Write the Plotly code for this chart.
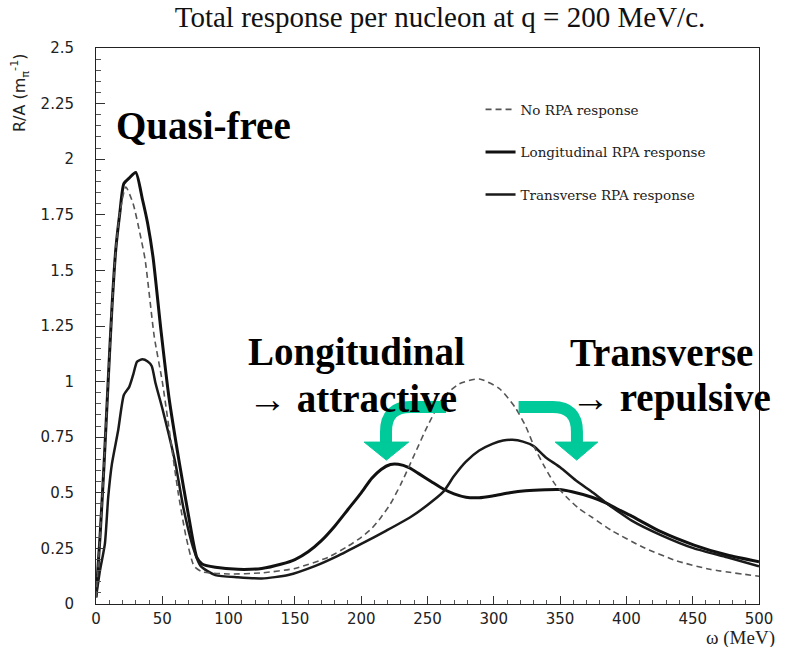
import plotly.graph_objects as go

# ---------------- data ----------------
omega_norpa = [0, 3, 6, 9, 12, 15, 18, 22.5, 28, 33, 37, 44, 50, 56, 62, 68, 74, 80,
               100, 125, 150, 175, 190, 200, 208, 215, 222, 230, 240, 250, 262, 274, 289,
               304, 316, 324, 331, 338, 346, 355, 364, 374, 389, 413, 438, 463, 500]
r_norpa = [0.03, 0.30, 0.62, 0.98, 1.33, 1.60, 1.76, 1.875, 1.80, 1.67, 1.55, 1.20, 1.00,
           0.75, 0.50, 0.30, 0.17, 0.145, 0.135, 0.14, 0.16, 0.21, 0.26, 0.30, 0.34, 0.39,
           0.45, 0.54, 0.67, 0.80, 0.93, 0.99, 1.012, 0.97, 0.885, 0.80, 0.70, 0.62, 0.54,
           0.48, 0.43, 0.39, 0.33, 0.254, 0.194, 0.156, 0.125]

omega_long = [0, 3, 6, 9, 12, 15, 18, 21, 25, 30, 35, 39, 43, 49, 55, 63, 70, 76, 80, 90,
              107, 125, 140, 150, 160, 170, 180, 190, 200, 208, 215, 222, 228, 236, 244,
              253, 262, 270, 279, 289, 299, 312, 324, 339, 349, 359, 374, 384, 394, 404,
              426, 451, 476, 500]
r_long = [0.03, 0.30, 0.62, 0.98, 1.33, 1.60, 1.76, 1.89, 1.915, 1.94, 1.82, 1.71, 1.56,
          1.23, 0.93, 0.63, 0.39, 0.21, 0.18, 0.165, 0.156, 0.16, 0.18, 0.20, 0.235, 0.285,
          0.35, 0.425, 0.50, 0.565, 0.605, 0.627, 0.628, 0.613, 0.584, 0.55, 0.517, 0.495,
          0.48, 0.478, 0.486, 0.50, 0.509, 0.514, 0.515, 0.505, 0.48, 0.456, 0.425, 0.395,
          0.325, 0.265, 0.22, 0.19]

omega_trans = [0, 3, 6.7, 9.2, 12, 16.7, 21, 25, 28, 31, 35, 39, 42, 45, 50, 55, 60, 66,
               74, 79, 90, 107, 125, 145, 165, 182, 200, 219, 237, 250, 262, 270, 279,
               289, 299, 307, 314, 322, 330, 339, 350, 362, 375, 384, 394, 404, 426, 451,
               476, 500]
r_trans = [0.03, 0.15, 0.27, 0.48, 0.63, 0.78, 0.94, 0.975, 1.03, 1.09, 1.10, 1.09, 1.07,
           0.99, 0.88, 0.76, 0.63, 0.43, 0.24, 0.17, 0.13, 0.12, 0.115, 0.13, 0.17, 0.215,
           0.27, 0.33, 0.39, 0.445, 0.505, 0.575, 0.64, 0.69, 0.72, 0.735, 0.738, 0.73,
           0.71, 0.66, 0.615, 0.555, 0.50, 0.458, 0.415, 0.375, 0.31, 0.25, 0.21, 0.17]

y_tickvals = [0, 0.25, 0.5, 0.75, 1, 1.25, 1.5, 1.75, 2, 2.25, 2.5]
y_ticktext = ["0", "0.25", "0.5", "0.75", "1", "1.25", "1.5", "1.75", "2", "2.25", "2.5"]
x_tickvals = [0, 50, 100, 150, 200, 250, 300, 350, 400, 450, 500]

series_names = ["No RPA response", "Longitudinal RPA response", "Transverse RPA response"]

# ---------------- figure ----------------
fig = go.Figure()

fig.add_trace(go.Scatter(x=omega_long, y=r_long, mode="lines", name=series_names[1],
                         legendgroup="b", legendrank=2,
                         line=dict(color="#111111", width=3, shape="spline", smoothing=0.6)))
fig.add_trace(go.Scatter(x=omega_trans, y=r_trans, mode="lines", name=series_names[2],
                         legendgroup="c", legendrank=3,
                         line=dict(color="#1a1a1a", width=2.5, shape="spline", smoothing=0.6)))
fig.add_trace(go.Scatter(x=omega_norpa, y=r_norpa, mode="lines", name=series_names[0],
                         legendgroup="a", legendrank=1,
                         line=dict(color="#555555", width=1.6, dash="6px,4px",
                                   shape="spline", smoothing=0.6)))

serif = "Liberation Serif"
green = "#00C99A"

# curved arrows (decorations, in data coordinates)
arrow_paths = [
    "M 264.0,0.886 L 237.0,0.886 Q 218.7,0.886 218.7,0.775 L 218.7,0.724",
    "M 318.7,0.886 L 344.5,0.886 Q 362.7,0.886 362.7,0.775 L 362.7,0.724",
]
heads = [
    "M 202.2,0.728 L 235.8,0.728 L 219.0,0.647 Z",
    "M 346.3,0.728 L 378.4,0.728 L 362.5,0.647 Z",
]
shapes = []
for p in arrow_paths:
    shapes.append(dict(type="path", path=p, xref="x", yref="y",
                       line=dict(color=green, width=12), layer="above"))
for h in heads:
    shapes.append(dict(type="path", path=h, xref="x", yref="y", fillcolor=green,
                       line=dict(color=green, width=1), layer="above"))

big = dict(family=serif, size=39, color="black")
annotations = [
    dict(text="<b>Quasi-free</b>", x=0.027, y=0.86, xref="paper", yref="paper",
         xanchor="left", yanchor="middle", showarrow=False, font=big),
    dict(text="<b>Longitudinal</b>", x=0.226, y=0.453, xref="paper", yref="paper",
         xanchor="left", yanchor="middle", showarrow=False, font=big),
    dict(text="<b>→ attractive</b>", x=0.226, y=0.370, xref="paper", yref="paper",
         xanchor="left", yanchor="middle", showarrow=False, font=big),
    dict(text="<b>Transverse</b>", x=0.712, y=0.453, xref="paper", yref="paper",
         xanchor="left", yanchor="middle", showarrow=False, font=big),
    dict(text="<b>→ repulsive</b>", x=0.714, y=0.370, xref="paper", yref="paper",
         xanchor="left", yanchor="middle", showarrow=False, font=big),
    dict(text="R/A (m<sub>π</sub><sup>-1</sup>)", textangle=-90, x=-0.115, y=0.995,
         xref="paper", yref="paper", xanchor="center", yanchor="top", showarrow=False,
         font=dict(family="DejaVu Sans", size=16, color="#222")),
    dict(text="ω (MeV)", x=1.026, y=-0.0791, xref="paper", yref="paper",
         xanchor="right", yanchor="bottom", showarrow=False, height=19, borderpad=0,
         valign="middle", font=dict(family=serif, size=19, color="#222")),
]

fig.update_layout(
    width=785, height=648,
    margin=dict(l=96, r=19, t=48, b=44),
    paper_bgcolor="white", plot_bgcolor="white",
    title=dict(text="Total response per nucleon at q = 200 MeV/c.",
               x=440 / 785, xanchor="center", y=1 - 17 / 648, yanchor="middle",
               font=dict(family=serif, size=29, color="#111")),
    showlegend=True,
    legend=dict(x=0.58, y=0.917, xanchor="left", yanchor="top",
                bgcolor="rgba(0,0,0,0)", borderwidth=0,
                font=dict(family="DejaVu Serif", size=13.5, color="#222"),
                traceorder="grouped", tracegroupgap=22),
    shapes=shapes,
    annotations=annotations,
    xaxis=dict(range=[0, 500], tickvals=x_tickvals, ticks="inside", ticklen=8,
               tickwidth=1, tickcolor="#333", ticklabelstandoff=1,
               minor=dict(dtick=10, ticks="inside", ticklen=4, tickcolor="#555"),
               showgrid=False, zeroline=False, showline=True, linecolor="#222",
               linewidth=1, mirror=True,
               tickfont=dict(family="DejaVu Sans", size=15, color="#222")),
    yaxis=dict(range=[0, 2.5], tickvals=y_tickvals, ticktext=y_ticktext,
               ticks="inside", ticklen=9, tickwidth=1, tickcolor="#333",
               minor=dict(dtick=0.05, ticks="inside", ticklen=5, tickcolor="#555"),
               showgrid=False, zeroline=False, showline=True, linecolor="#222",
               linewidth=1, mirror=True, ticklabelstandoff=18,
               tickfont=dict(family="DejaVu Sans", size=15, color="#222")),
)

fig.write_html("out.html")
